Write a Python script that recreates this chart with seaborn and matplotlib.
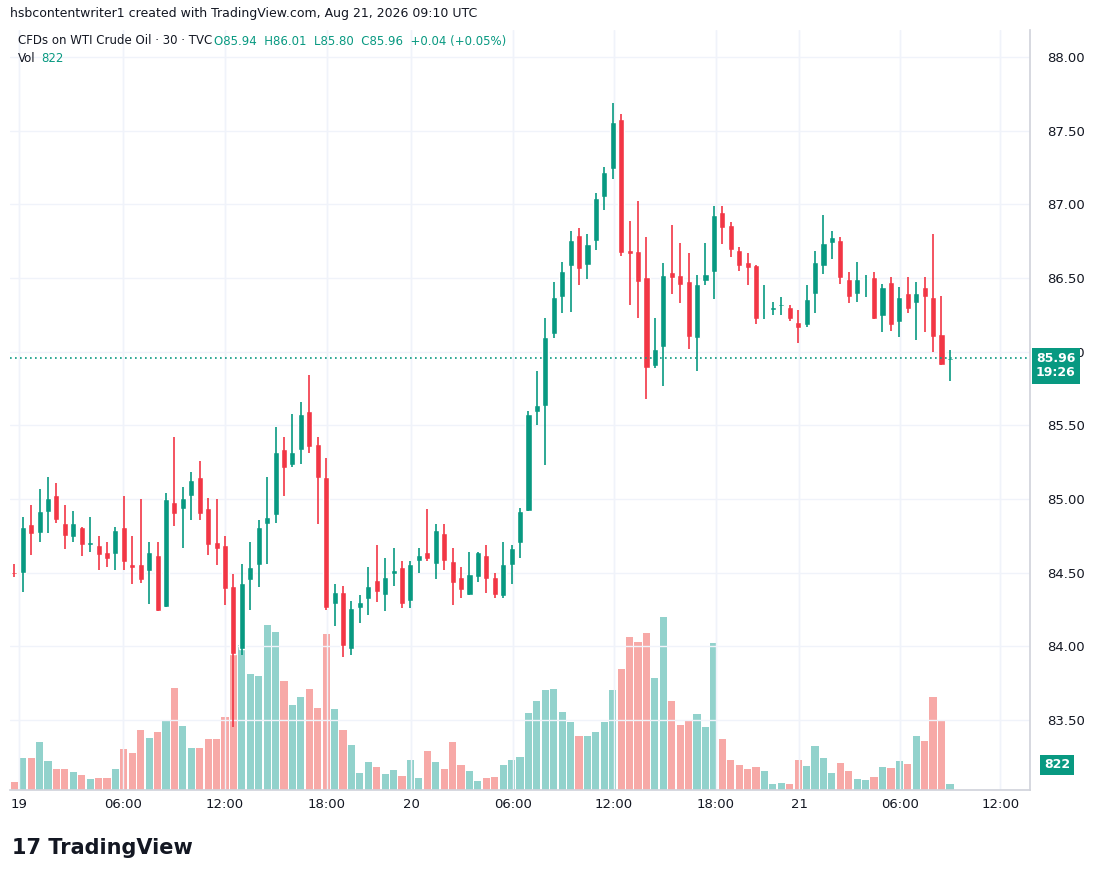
import matplotlib
matplotlib.use("Agg")
import matplotlib.pyplot as plt
import seaborn as sns
import pandas as pd
import numpy as np

# 30-minute candles, WTI crude CFD
opens = [84.50, 84.50, 84.83, 84.77, 84.91, 85.03, 84.84, 84.74, 84.81, 84.69,
         84.69, 84.64, 84.63, 84.81, 84.56, 84.56, 84.51, 84.62, 84.27, 84.98,
         84.93, 85.02, 85.15, 84.94, 84.71, 84.69, 84.41, 83.98, 84.45, 84.55,
         84.83, 84.89, 85.34, 85.23, 85.33, 85.60, 85.37, 85.15, 84.29, 84.37,
         83.98, 84.26, 84.32, 84.45, 84.35, 84.49, 84.54, 84.31, 84.58, 84.64,
         84.56, 84.77, 84.58, 84.47, 84.35, 84.47, 84.62, 84.47, 84.34, 84.55,
         84.70, 84.92, 85.59, 85.63, 86.12, 86.37, 86.58, 86.79, 86.59, 86.75,
         87.05, 87.24, 87.58, 86.69, 86.68, 86.51, 85.90, 86.03, 86.54, 86.52,
         86.48, 86.09, 86.48, 86.54, 86.95, 86.86, 86.69, 86.61, 86.59, 86.26,
         86.28, 86.31, 86.30, 86.20, 86.18, 86.39, 86.58, 86.74, 86.76, 86.49,
         86.39, 86.49, 86.51, 86.24, 86.47, 86.20, 86.40, 86.33, 86.44, 86.37,
         86.12, 85.94]
highs = [84.56, 84.88, 84.96, 85.07, 85.15, 85.11, 84.96, 84.92, 84.81, 84.88,
         84.75, 84.71, 84.81, 85.02, 84.75, 85.00, 84.71, 84.71, 85.04, 85.42,
         85.08, 85.18, 85.26, 85.01, 85.00, 84.75, 84.49, 84.56, 84.71, 84.86,
         85.15, 85.49, 85.42, 85.58, 85.66, 85.84, 85.42, 85.28, 84.42, 84.41,
         84.31, 84.35, 84.54, 84.69, 84.60, 84.67, 84.58, 84.58, 84.67, 84.93,
         84.83, 84.83, 84.67, 84.54, 84.64, 84.64, 84.69, 84.50, 84.71, 84.69,
         84.94, 85.60, 85.87, 86.23, 86.47, 86.61, 86.82, 86.84, 86.80, 87.08,
         87.25, 87.69, 87.61, 86.89, 87.02, 86.78, 86.23, 86.60, 86.86, 86.74,
         86.67, 86.52, 86.74, 86.99, 86.99, 86.88, 86.71, 86.67, 86.59, 86.45,
         86.34, 86.37, 86.32, 86.28, 86.45, 86.68, 86.93, 86.82, 86.78, 86.54,
         86.61, 86.52, 86.54, 86.46, 86.51, 86.44, 86.51, 86.47, 86.51, 86.80,
         86.38, 86.01]
lows = [84.47, 84.37, 84.62, 84.71, 84.77, 84.84, 84.66, 84.71, 84.61, 84.64,
        84.52, 84.54, 84.52, 84.52, 84.42, 84.43, 84.29, 84.24, 84.27, 84.82,
        84.67, 84.86, 84.86, 84.62, 84.55, 84.28, 83.45, 83.94, 84.25, 84.40,
        84.56, 84.84, 85.02, 85.22, 85.24, 85.31, 84.83, 84.25, 84.14, 83.93,
        83.94, 84.16, 84.21, 84.30, 84.24, 84.41, 84.26, 84.26, 84.50, 84.58,
        84.46, 84.52, 84.28, 84.33, 84.35, 84.44, 84.36, 84.33, 84.33, 84.42,
        84.60, 84.92, 85.50, 85.23, 86.09, 86.26, 86.27, 86.45, 86.49, 86.69,
        86.96, 87.17, 86.65, 86.32, 86.23, 85.68, 85.89, 85.77, 86.39, 86.33,
        86.02, 85.87, 86.45, 86.36, 86.73, 86.64, 86.55, 86.45, 86.19, 86.22,
        86.25, 86.25, 86.21, 86.06, 86.17, 86.26, 86.53, 86.63, 86.46, 86.33,
        86.34, 86.37, 86.22, 86.13, 86.14, 86.10, 86.26, 86.08, 86.13, 86.00,
        85.91, 85.80]
closes = [84.49, 84.81, 84.76, 84.92, 85.01, 84.86, 84.75, 84.84, 84.69, 84.71,
          84.62, 84.59, 84.79, 84.57, 84.53, 84.45, 84.64, 84.24, 85.00, 84.90,
          85.01, 85.13, 84.90, 84.69, 84.66, 84.39, 83.95, 84.43, 84.54, 84.81,
          84.88, 85.32, 85.21, 85.32, 85.58, 85.35, 85.14, 84.26, 84.37, 84.00,
          84.26, 84.30, 84.41, 84.37, 84.47, 84.52, 84.29, 84.56, 84.62, 84.59,
          84.79, 84.58, 84.43, 84.38, 84.49, 84.64, 84.46, 84.35, 84.56, 84.67,
          84.92, 85.58, 85.64, 86.10, 86.37, 86.55, 86.76, 86.56, 86.73, 87.04,
          87.22, 87.56, 86.67, 86.66, 86.47, 85.89, 86.02, 86.52, 86.50, 86.45,
          86.10, 86.46, 86.53, 86.93, 86.84, 86.69, 86.58, 86.57, 86.22, 86.27,
          86.30, 86.32, 86.22, 86.16, 86.36, 86.61, 86.74, 86.78, 86.50, 86.37,
          86.49, 86.50, 86.22, 86.44, 86.18, 86.37, 86.29, 86.40, 86.37, 86.10,
          85.91, 85.96]
# volume in relative units (last bar = 822)
volumes = [8, 32, 32, 48, 29, 21, 21, 18, 15, 11, 12, 12, 21, 41, 37, 60, 52, 58, 69, 102,
           64, 42, 42, 51, 51, 73, 140, 145, 116, 114, 165, 158, 109, 85, 93, 101, 82, 156, 81, 60,
           45, 17, 28, 23, 16, 20, 14, 30, 12, 39, 28, 21, 48, 25, 19, 9, 12, 13, 25, 30,
           33, 77, 89, 100, 101, 78, 68, 54, 54, 58, 68, 100, 121, 153, 148, 157, 112, 173, 89, 65,
           69, 76, 63, 147, 51, 30, 25, 21, 23, 19, 6, 7, 6, 30, 24, 44, 32, 17, 27, 19,
           11, 10, 13, 23, 22, 29, 26, 54, 49, 93, 69, 6]
time_ticks = [0.56, 12.9, 25.0, 37.1, 47.1, 59.2, 71.1, 83.2, 93.1, 105.1, 117.0]
time_labels = ["19", "06:00", "12:00", "18:00", "20", "06:00", "12:00", "18:00", "21", "06:00", "12:00"]
price_ticks = [83.5, 84.0, 84.5, 85.0, 85.5, 86.0, 86.5, 87.0, 87.5, 88.0]
last_price = 85.96

GREEN = "#089981"
RED = "#F23645"

df = pd.DataFrame({"o": opens, "h": highs, "l": lows, "c": closes, "v": volumes})
df["i"] = np.arange(len(df))
df["dir"] = np.where(df["c"] >= df["o"], "up", "down")

sns.set_theme(style="white")
plt.rcParams['font.family'] = ['DejaVu Sans']

fig = plt.figure(figsize=(11.01, 8.77), dpi=100)
W, H = 1101, 877
rect = [10 / W, (H - 790) / H, 1020 / W, 760 / H]
axv = fig.add_axes(rect)
ax = fig.add_axes(rect, sharex=axv)
ax.patch.set_alpha(0)

# vertical grid behind volume
for t in time_ticks:
    axv.axvline(t, color="#F0F3FA", linewidth=1, zorder=0)

# volume
sns.barplot(data=df, x="i", y="v", hue="dir", palette={"up": "#92D2CC", "down": "#F7A9A7"},
            native_scale=True, dodge=False, legend=False, width=0.85, ax=axv,
            saturation=1, linewidth=0)
axv.set_ylim(0, 760)
axv.set_yticks([])
axv.set_xlabel("")
axv.set_ylabel("")
axv.tick_params(axis="x", length=0, labelbottom=False)

# candles
cols = df["dir"].map({"up": GREEN, "down": RED})
ax.vlines(df["i"], df["l"], df["h"], colors=cols, linewidth=1.2)
bottoms = df[["o", "c"]].min(axis=1)
heights = (df["o"] - df["c"]).abs().clip(lower=0.012)
ax.bar(df["i"], heights, bottom=bottoms, width=0.72, color=cols)

ax.set_ylim(83.025, 88.183)
ax.set_xlim(-0.51, 120.5)
ax.axhline(last_price, color=GREEN, linestyle=(0, (1, 2)), linewidth=1.2)
ax.set_yticks(price_ticks)
ax.set_yticklabels([f"{p:.2f}" for p in price_ticks])
ax.yaxis.tick_right()
ax.tick_params(axis="y", length=0, labelsize=9.5, colors="#131722", pad=12)
ax.set_xticks(time_ticks)
ax.set_xticklabels(time_labels)
ax.tick_params(axis="x", length=0, labelsize=9.5, colors="#131722", pad=6)
ax.grid(True, color="#F0F3FA", linewidth=1)
for a in (ax, axv):
    for s in a.spines.values():
        s.set_visible(False)
ax.spines["bottom"].set_visible(True)
ax.spines["bottom"].set_color("#D1D4DC")
ax.spines["right"].set_visible(True)
ax.spines["right"].set_color("#D1D4DC")

# price / volume label boxes
fig.text(1036 / W, 1 - 366 / H, "85.96\n19:26", ha="left", va="center", color="white",
         fontsize=9, fontweight="bold", linespacing=1.1, zorder=10,
         bbox=dict(boxstyle="square,pad=0.35", fc=GREEN, ec="none"))
fig.text(1044 / W, 1 - 765 / H, "822", ha="left", va="center", color="white",
         fontsize=9, fontweight="bold",
         bbox=dict(boxstyle="square,pad=0.3", fc=GREEN, ec="none"))

# header texts
fig.text(10 / W, 1 - 14 / H, "hsbcontentwriter1 created with TradingView.com, Aug 21, 2026 09:10 UTC",
         ha="left", va="center", fontsize=9, color="#131722")
fig.text(18 / W, 1 - 41 / H, "CFDs on WTI Crude Oil · 30 · TVC", ha="left", va="center",
         fontsize=8.5, color="#131722")
fig.text(214 / W, 1 - 41 / H, "O85.94  H86.01  L85.80  C85.96  +0.04 (+0.05%)", ha="left",
         va="center", fontsize=8.5, color=GREEN)
fig.text(18 / W, 1 - 59 / H, "Vol", ha="left", va="center", fontsize=8.5, color="#131722")
fig.text(41 / W, 1 - 59 / H, "822", ha="left", va="center", fontsize=8.5, color=GREEN)
fig.text(12 / W, 1 - 848 / H, "17 TradingView", ha="left", va="center", fontsize=15,
         fontweight="bold", color="#131722")

fig.savefig("out.png", dpi=100, facecolor="white")
